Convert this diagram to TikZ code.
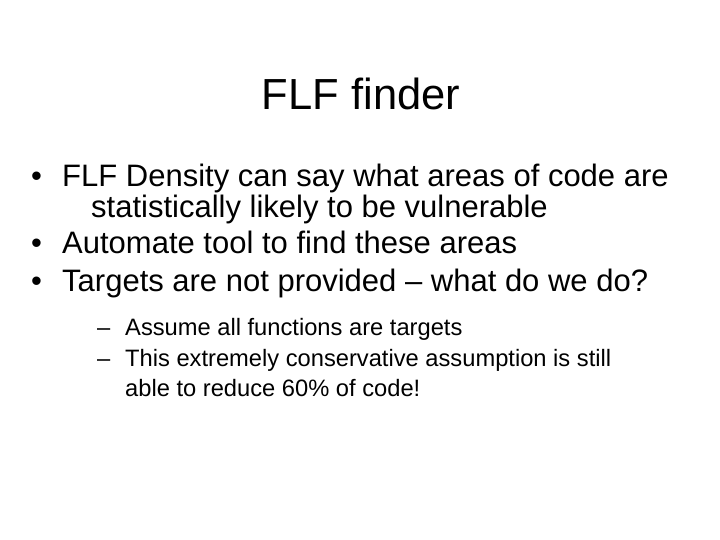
\documentclass[tikz,border=0pt]{standalone}
\usepackage{fontspec}
\setmainfont{Liberation Sans}
\begin{document}
\begin{tikzpicture}[x=1pt,y=-1pt,
  txt/.style={anchor=base west,inner sep=0pt,font=\fontsize{31}{36}\selectfont},
  sub/.style={anchor=base west,inner sep=0pt,font=\fontsize{23.7}{28}\selectfont}]
\useasboundingbox[fill=white] (0,0) rectangle (720,540);
\node[anchor=base,inner sep=0pt,font=\fontsize{43.5}{50}\selectfont] (title) at (361,110) {FLF finder};
\node[txt] (b1) at (31,187) {•};
\node[txt] (t1) at (62,187) {FLF Density can say what areas of code are};
\node[txt] (t1b) at (91,218) {statistically likely to be vulnerable};
\node[txt] (b2) at (31,254) {•};
\node[txt] (t2) at (62,254) {Automate tool to find these areas};
\node[txt] (b3) at (31,291) {•};
\node[txt] (t3) at (62,291) {Targets are not provided – what do we do?};
\node[sub] (d1) at (97,335) {–};
\node[sub] (s1) at (125,335) {Assume all functions are targets};
\node[sub] (d2) at (97,366) {–};
\node[sub] (s2) at (125,366) {This extremely conservative assumption is still};
\node[sub] (s2b) at (125,396) {able to reduce 60\% of code!};
\end{tikzpicture}
\end{document}
